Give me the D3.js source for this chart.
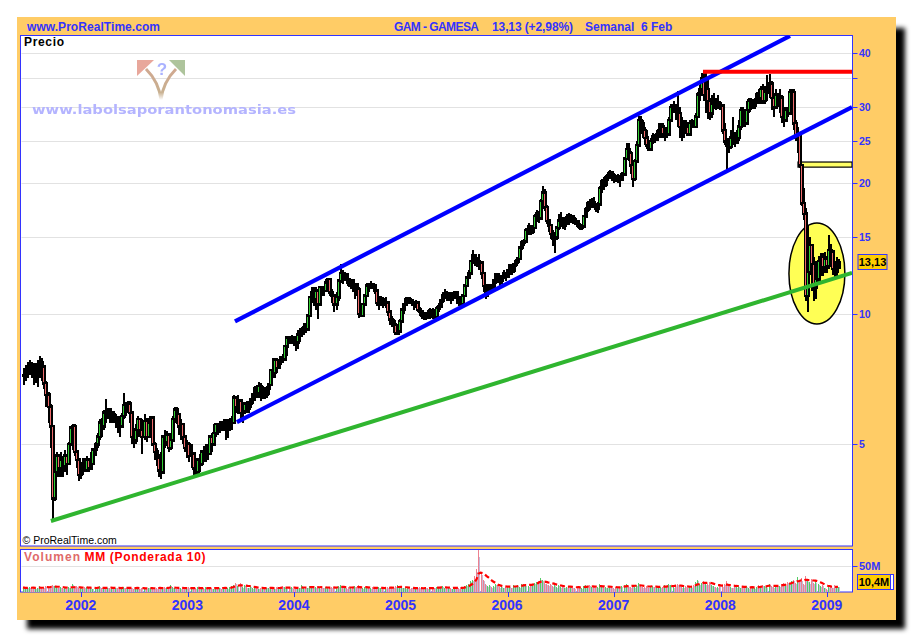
<!DOCTYPE html>
<html><head><meta charset="utf-8">
<script src="https://cdn.jsdelivr.net/npm/d3@7/dist/d3.min.js"></script>
<style>html,body{margin:0;padding:0;background:#fff}svg{display:block}text{font-family:"Liberation Sans",Arial,sans-serif}</style>
</head><body><svg id="c" width="914" height="638"></svg>
<script>
const closes=[7.2,7.3,7.45,7.6,7.5,7.4,7.45,7.6,7.7,7.55,6.9,6.5,6.1,5.5,3.75,4.3,4.7,4.4,4.6,4.45,
4.7,4.5,5.0,5.45,5.5,4.8,4.6,4.25,4.4,4.5,4.35,4.6,4.4,4.5,4.85,5.0,5.2,5.6,5.5,5.9,
5.85,6.0,5.8,5.85,5.7,5.75,5.55,5.5,5.8,6.15,6.0,6.2,5.9,5.2,5.1,5.4,5.7,5.4,5.2,5.65,
5.2,5.6,5.75,5.0,4.8,4.65,4.35,4.3,5.2,5.05,5.25,4.9,5.1,5.7,6.0,5.85,5.5,5.55,5.2,4.9,
5.0,4.7,4.75,4.4,4.3,4.6,4.5,4.8,4.7,4.85,4.75,5.2,5.0,5.3,5.55,5.4,5.5,5.45,5.55,5.4,
5.5,5.6,5.6,6.4,6.1,6.3,5.9,5.95,6.2,6.05,6.2,6.35,6.5,6.7,6.55,6.8,6.6,6.7,6.5,6.7,
6.85,7.4,7.3,7.8,7.5,7.75,7.9,7.85,8.4,8.8,8.75,8.8,8.7,8.6,8.95,9.05,9.1,9.3,9.2,9.9,
10.9,11.2,10.8,11.3,10.5,11.5,11.4,11.3,11.8,12.0,11.2,11.0,10.5,10.9,11.9,12.4,12.1,12.3,12.0,11.7,
11.9,11.6,11.7,11.4,10.0,9.9,10.5,11.0,11.6,11.5,11.7,11.6,11.3,10.6,10.7,10.8,10.5,10.6,10.1,9.7,
9.6,9.4,9.0,9.1,9.6,10.2,10.5,10.8,10.8,10.7,10.6,10.5,10.6,10.2,10.1,9.9,9.8,10.0,9.85,10.15,
9.95,9.8,10.3,10.4,10.7,11.0,11.1,11.0,11.1,10.9,11.0,11.2,10.9,10.7,10.5,11.0,11.6,12.1,12.4,13.2,
13.6,13.3,13.2,13.1,12.4,11.6,11.2,11.3,11.6,11.5,11.9,12.3,12.2,11.9,12.2,12.4,12.2,12.6,12.9,12.6,
13.0,13.2,13.4,14.2,14.6,14.7,15.6,15.9,15.5,15.8,16.8,17.0,16.6,18.2,19.0,17.6,16.4,16.0,15.3,14.9,
15.0,15.8,16.4,16.6,16.0,16.4,16.7,16.5,16.8,16.5,16.3,16.0,15.8,15.9,16.8,17.4,18.0,17.8,18.1,17.8,
17.5,17.9,19.5,20.2,19.9,20.6,20.8,21.2,20.9,20.7,20.4,20.7,20.4,21.0,22.8,24.0,23.5,22.0,20.5,22.5,
24.5,28.0,27.5,26.5,25.5,24.5,24.0,25.0,25.6,25.3,26.0,26.5,27.0,26.0,26.5,26.0,28.0,30.0,30.2,29.5,
29.0,27.0,26.5,27.5,27.0,26.0,27.5,27.6,27.0,28.5,32.0,33.0,35.0,32.0,33.0,31.0,29.0,30.5,31.0,30.0,
30.5,30.2,26.5,25.0,24.5,24.3,25.5,25.2,24.8,25.5,27.0,29.5,28.5,27.5,29.5,31.0,30.0,30.2,31.0,32.0,
31.5,33.0,31.0,32.5,33.0,34.0,31.5,30.0,32.0,31.0,31.5,28.5,28.0,29.5,29.0,32.5,32.5,27.5,25.5,26.0,
22.0,18.0,17.0,11.0,12.5,14.4,13.0,11.5,12.0,13.2,13.5,12.8,13.4,12.9,14.0,13.9,12.7,12.5,12.75,13.13];
const highs=[7.5,7.6,7.75,7.8,7.75,7.7,7.7,7.8,8.0,7.9,7.6,7.0,6.6,6.2,5.3,4.4,4.8,4.75,4.8,4.7,
4.85,4.75,5.05,5.5,5.55,5.55,4.85,4.65,4.5,4.65,4.65,4.7,4.65,4.8,4.9,5.05,5.3,5.7,5.75,6.0,
6.35,6.05,6.05,5.95,5.95,5.85,5.8,5.7,5.9,6.55,6.25,6.3,6.3,5.95,5.4,5.55,5.8,5.75,5.7,5.85,
5.75,5.75,5.8,5.75,5.05,4.9,4.75,4.8,5.25,5.4,5.35,5.3,5.2,5.8,6.1,6.1,5.9,5.7,5.6,5.25,
5.1,5.05,5.0,4.8,4.6,4.65,4.75,4.85,4.95,5.0,5.0,5.25,5.3,5.55,5.6,5.6,5.65,5.65,5.7,5.7,
5.7,5.75,5.8,6.5,6.45,6.5,6.3,6.1,6.25,6.3,6.3,6.4,6.55,6.8,6.85,6.95,6.9,6.8,6.75,6.8,
6.9,7.45,7.9,7.9,7.9,7.8,7.95,8.05,8.45,8.85,8.9,8.95,8.9,8.8,9.15,9.25,9.3,9.5,9.5,10.0,
11.0,11.5,11.5,11.5,11.3,11.6,11.6,11.6,12.0,12.1,12.0,11.4,11.1,11.2,12.0,13.0,12.6,12.5,12.4,12.1,
12.0,11.9,11.8,11.7,11.5,10.6,10.6,11.1,11.8,11.8,11.9,11.8,11.7,11.4,11.0,11.0,10.9,10.9,10.7,10.2,
9.9,9.7,9.5,9.4,9.7,10.3,10.6,10.9,10.9,10.9,10.8,10.7,10.75,10.6,10.35,10.2,10.0,10.1,10.2,10.3,
10.3,10.1,10.4,10.6,10.8,11.2,11.4,11.3,11.2,11.2,11.2,11.3,11.2,11.0,10.9,11.1,11.7,12.2,12.6,13.3,
14.0,13.7,13.5,13.7,13.2,12.5,11.7,11.4,11.7,11.7,12.0,12.4,12.4,12.3,12.3,12.6,12.5,12.7,13.0,13.0,
13.1,13.4,13.5,14.3,14.8,14.9,15.8,16.2,16.0,16.0,17.0,17.4,17.3,18.4,19.7,19.4,17.8,16.5,16.0,15.6,
15.4,15.9,17.0,17.2,16.7,16.6,17.0,17.1,17.0,16.8,16.7,16.5,16.2,16.1,16.9,17.6,18.2,18.4,18.5,18.6,
18.0,18.1,19.7,20.5,20.7,20.9,21.2,21.5,21.4,21.1,20.9,21.0,20.8,21.2,23.0,24.8,24.8,23.8,22.3,22.8,
25.0,28.6,28.6,28.0,27.0,26.5,25.0,25.5,26.2,26.0,26.5,27.5,27.5,27.5,27.0,27.0,28.5,30.5,31.0,30.5,
32.6,30.0,28.5,28.0,28.0,27.5,28.0,28.2,28.0,29.0,32.5,33.8,36.0,36.5,36.0,35.0,31.5,32.0,32.3,31.5,
32.0,31.0,30.5,27.5,25.5,25.5,26.5,28.4,26.3,26.5,28.0,30.0,30.0,29.0,31.0,31.5,31.5,31.0,31.5,32.5,
33.0,33.5,34.0,33.5,35.5,35.8,34.5,32.0,33.0,32.0,33.0,32.0,30.0,30.0,30.0,33.0,33.0,33.0,28.0,27.0,
26.0,21.8,19.5,17.5,16.0,15.0,14.5,13.5,13.2,13.6,13.8,13.8,13.9,13.6,15.2,14.5,14.0,13.2,13.5,13.4];
const lows=[6.85,7.0,7.1,7.2,7.1,6.85,6.9,6.76,7.1,7.0,6.7,6.1,5.6,4.9,3.33,3.7,4.2,4.2,4.2,4.2,
4.3,4.25,4.5,5.0,4.85,4.7,4.4,4.1,4.15,4.25,4.3,4.3,4.3,4.35,4.5,4.7,4.9,5.1,5.2,5.4,
5.6,5.7,5.6,5.6,5.6,5.45,5.3,5.2,5.45,5.7,5.8,5.9,5.6,5.0,4.9,5.0,5.2,5.2,4.75,5.1,
5.05,5.2,5.3,4.95,4.6,4.45,4.2,4.15,4.3,4.9,4.95,4.8,4.85,5.05,5.6,5.55,5.25,5.1,5.0,4.8,
4.65,4.55,4.4,4.2,4.2,4.25,4.3,4.45,4.55,4.55,4.6,4.75,4.8,4.95,5.2,5.25,5.3,5.35,5.35,5.1,
5.15,5.35,5.4,5.55,5.9,5.85,5.7,5.6,5.85,5.9,5.9,6.05,6.2,6.3,6.4,6.4,6.3,6.35,6.35,6.4,
6.5,6.8,7.1,7.1,7.3,7.45,7.6,7.7,7.9,8.0,8.5,8.5,8.4,8.2,8.3,8.6,8.85,8.95,9.0,9.2,
9.8,10.6,10.4,10.2,9.7,10.4,11.0,11.0,11.2,11.2,11.0,10.6,10.1,10.2,10.7,11.8,11.7,11.9,11.7,11.5,
11.4,11.2,10.8,11.0,9.75,9.8,9.8,10.4,10.9,11.2,11.4,11.4,11.1,10.4,10.2,10.4,10.3,10.3,9.9,9.4,
9.3,9.0,8.95,8.95,9.05,9.5,10.0,10.4,10.5,10.5,10.4,10.2,10.3,10.1,9.9,9.7,9.65,9.65,9.7,9.7,
9.7,9.55,9.7,10.1,10.3,10.6,10.8,10.7,10.7,10.5,10.7,10.8,10.5,10.4,10.4,10.5,10.9,11.5,12.0,12.3,
13.0,12.9,12.8,12.6,12.0,11.2,10.8,10.9,11.1,11.2,11.4,11.7,11.8,11.6,11.7,12.0,11.9,12.1,12.3,12.3,
12.4,12.8,13.0,13.3,14.0,14.3,14.6,15.2,15.2,15.3,15.7,16.3,16.2,16.5,18.0,17.3,16.1,15.4,14.9,14.3,
13.8,14.8,15.6,15.9,15.7,15.6,16.0,16.0,16.2,16.1,16.0,15.8,15.6,15.6,15.8,16.7,17.2,17.4,17.5,17.5,
17.2,17.1,17.7,19.0,19.3,19.6,20.2,20.5,20.3,20.0,20.1,20.0,19.6,20.2,20.8,22.6,22.5,21.0,19.6,20.3,
22.3,24.3,26.0,25.5,24.5,24.0,23.7,23.8,24.6,24.8,25.0,25.5,25.5,25.5,25.0,25.4,26.0,27.8,29.0,28.0,
27.0,25.5,25.0,25.5,26.0,25.8,26.0,27.0,26.8,26.8,28.3,31.0,32.0,31.0,29.0,28.1,28.0,28.3,30.0,29.5,
29.7,29.5,26.0,24.5,21.5,23.5,24.0,24.5,24.2,24.8,25.0,26.5,27.0,27.0,27.5,29.0,29.5,29.7,29.7,30.5,
30.5,30.5,30.5,30.5,31.0,31.5,29.5,28.5,30.0,30.0,29.0,27.5,27.0,28.0,28.5,28.8,29.5,26.5,25.0,23.5,
21.7,17.7,16.5,10.7,10.1,12.3,11.3,10.7,10.8,11.8,12.2,12.2,12.4,12.4,12.7,12.8,12.3,12.1,12.1,12.7];
const volumes=[9,7,8,10,7,9,6,8,11,7,9,12,10,8,14,12,9,8,10,7,
8,6,9,7,15,9,11,7,8,6,9,10,7,8,6,9,7,11,8,6,
9,8,7,10,6,8,7,9,6,10,8,7,9,8,6,7,9,6,8,7,
6,8,7,9,6,7,10,8,6,9,7,8,13,9,7,6,8,7,9,6,
7,9,6,8,7,10,8,6,7,9,6,8,7,6,9,7,8,6,10,8,
7,9,11,14,17,12,18,10,13,9,8,11,7,9,8,6,7,9,6,8,
7,10,8,6,9,7,8,11,9,7,8,10,6,9,7,8,13,7,9,8,
12,10,8,9,11,7,10,8,9,7,8,10,9,7,11,14,10,8,7,9,
7,8,11,9,13,8,7,9,10,8,7,9,6,8,10,7,8,6,9,8,
10,8,11,13,9,10,8,7,9,6,8,7,6,8,9,7,6,8,7,9,
7,8,10,9,8,11,7,9,8,7,6,10,8,7,9,8,11,13,16,22,
24,30,45,80,38,24,16,12,14,10,12,15,13,9,11,8,10,9,12,8,
14,11,13,10,15,16,14,12,16,13,18,20,22,27,24,17,15,13,16,12,
14,10,13,9,11,8,10,9,12,8,7,9,10,7,11,13,10,14,9,11,
8,10,15,12,9,10,8,11,9,7,10,8,9,11,13,15,12,10,14,10,
13,17,12,10,9,11,8,10,12,9,11,8,10,9,13,11,15,13,10,12,
16,12,10,9,11,8,10,9,14,20,24,16,18,22,15,16,19,13,12,10,
9,13,11,16,21,13,10,8,11,9,12,8,10,9,11,7,8,10,7,9,
13,11,14,12,10,16,12,9,11,13,12,15,17,14,20,17,21,24,18,28,
22,26,16,30,22,19,25,18,21,16,12,14,8,5,9,11,8,13,10,10.4];
const lastBarYear=2009.1;
const yearTicks=[2002,2003,2004,2005,2006,2007,2008,2009];
const priceTicks=[5,10,15,20,25,30,35,40];
const priceLabels=[5,10,15,20,25,30,40];
const channelUpper=[[2003.442,9.6],[2008.65,43.8]];
const channelLower=[[2003.46,5.62],[2009.232,30.0]];
const supportLine=[[2001.715,3.32],[2009.232,12.42]];
const resistance=[[2007.834,36.2],[2009.232,36.2]];
const gapZone={x0:2008.725,x1:2009.232,top:22.4,bottom:21.8};
const circled={x0:2008.64,x1:2009.165,top:16.2,bottom:9.47};

const blue="#3333ff",orange="#ffcc66";
const svg=d3.select("#c");
const x=d3.scaleLinear().domain([2002,2009]).range([81.3,827.3]);
const y=d3.scaleLog().domain([5,40]).range([444,53]);
const v=d3.scaleLinear().domain([0,50]).range([592,566]);
const P={l:20.5,r:852.5,t:35.5,b:546,vt:549.5,vb:592};
const defs=svg.append("defs");
defs.append("filter").attr("id","sh").attr("x","-5%").attr("y","-5%").attr("width","110%").attr("height","110%")
 .append("feGaussianBlur").attr("stdDeviation",2.6);
defs.append("filter").attr("id","soft").append("feGaussianBlur").attr("stdDeviation",0.45);
defs.append("clipPath").attr("id","cp").append("rect").attr("x",P.l).attr("y",P.t).attr("width",P.r-P.l).attr("height",P.b-P.t);
defs.append("clipPath").attr("id","cv").append("rect").attr("x",P.l).attr("y",P.vt).attr("width",P.r-P.l).attr("height",P.vb-P.vt);
const vg=defs.append("linearGradient").attr("id","vgrad").attr("x1",0).attr("x2",0).attr("y1",0).attr("y2",1);
vg.append("stop").attr("offset","0").attr("stop-color","#d0a890");
vg.append("stop").attr("offset","0.75").attr("stop-color","#c8b090");
vg.append("stop").attr("offset","1").attr("stop-color","#fff");

svg.append("rect").attr("x",27).attr("y",28).attr("width",878).attr("height",601).attr("fill","#000").attr("filter","url(#sh)");
svg.append("rect").attr("x",17).attr("y",17).attr("width",879).attr("height",603).attr("fill",orange);
svg.append("rect").attr("x",P.l).attr("y",P.t).attr("width",P.r-P.l).attr("height",P.b-P.t).attr("fill","#fff").attr("stroke",blue);
svg.append("rect").attr("x",P.l).attr("y",P.vt).attr("width",P.r-P.l).attr("height",P.vb-P.vt).attr("fill","#fff").attr("stroke",blue);

// header
const hdr=svg.append("g").attr("font-weight","bold").attr("font-size",12).attr("fill",blue);
hdr.append("text").attr("x",27).attr("y",31).attr("textLength",133).attr("lengthAdjust","spacing").text("www.ProRealTime.com");
hdr.append("text").attr("x",394).attr("y",31).attr("textLength",85).attr("lengthAdjust","spacing").text("GAM - GAMESA");
hdr.append("text").attr("x",492).attr("y",31).attr("textLength",81).attr("lengthAdjust","spacing").text("13,13 (+2,98%)");
hdr.append("text").attr("x",585).attr("y",31).style("white-space","pre").text("Semanal  6 Feb");

// gridlines
const plot=svg.append("g");
plot.selectAll("line.g").data(priceTicks).join("line").attr("x1",P.l+1).attr("x2",P.r-1)
 .attr("y1",d=>Math.round(y(d))+.5).attr("y2",d=>Math.round(y(d))+.5).attr("stroke","#e2e2e2");
svg.append("line").attr("x1",P.l+1).attr("x2",P.r-1).attr("y1",Math.round(v(50))+.5).attr("y2",Math.round(v(50))+.5).attr("stroke","#e2e2e2");

// watermark
const wm=svg.append("g").attr("filter","url(#soft)");
wm.append("path").attr("d","M137 60H154L137 76Z").attr("fill","#e8a79b");
wm.append("path").attr("d","M185 60H169L185 76Z").attr("fill","#aec49c");
wm.append("path").attr("d","M146 69Q159 82 161 100Q163 82 176 69").attr("fill","none").attr("stroke","url(#vgrad)").attr("stroke-width",3);
wm.append("text").attr("x",162).attr("y",75).attr("text-anchor","middle").attr("font-size",17).attr("font-weight","bold").attr("fill","#aab2ff").text("?");
wm.append("text").attr("x",32).attr("y",114).attr("font-size",13).attr("font-weight","bold").attr("fill","#b4b4ff").style("font-family","'DejaVu Sans'")
 .attr("textLength",264).attr("lengthAdjust","spacingAndGlyphs").text("www.labolsaporantonomasia.es");

svg.append("text").attr("x",24).attr("y",46).attr("font-size",12).attr("font-weight","bold").attr("fill","#000").attr("textLength",40).attr("lengthAdjust","spacing").text("Precio");
svg.append("text").attr("x",22.5).attr("y",544).attr("font-size",10.5).attr("fill","#000").text("© ProRealTime.com");

// bars
const n=closes.length;
const rows=closes.map((c,i)=>({yr:lastBarYear-(n-1-i)*7/365.25,c,o:i?closes[i-1]:c,h:highs[i],l:lows[i],vol:volumes[i]}));
const main=svg.append("g").attr("clip-path","url(#cp)");
main.append("ellipse").attr("cx",(x(circled.x0)+x(circled.x1))/2).attr("cy",(y(circled.top)+y(circled.bottom))/2)
 .attr("rx",(x(circled.x1)-x(circled.x0))/2).attr("ry",(y(circled.bottom)-y(circled.top))/2)
 .attr("fill","#ffff55").attr("stroke","#000").attr("stroke-width",1.5);
main.append("rect").attr("x",x(gapZone.x0)).attr("width",x(gapZone.x1)-x(gapZone.x0)).attr("y",y(gapZone.top)).attr("height",y(gapZone.bottom)-y(gapZone.top))
 .attr("fill","#ffff66").attr("stroke","#000").attr("stroke-width",1.2);
const bx=d=>Math.round(x(d.yr));
const bars=main.append("g").attr("shape-rendering","crispEdges");
bars.selectAll("rect.w").data(rows).join("rect").attr("x",d=>bx(d)).attr("width",2)
 .attr("y",d=>y(d.h)).attr("height",d=>y(d.l)-y(d.h)).attr("fill","#000");
bars.selectAll("rect.b").data(rows).join("rect").attr("x",d=>bx(d)-1).attr("width",4)
 .attr("y",d=>Math.min(y(d.o),y(d.c))-1.5).attr("height",d=>Math.abs(y(d.o)-y(d.c))+3).attr("fill","#000");
bars.selectAll("rect.f").data(rows.filter(d=>Math.abs(y(d.o)-y(d.c))>=7)).join("rect").attr("x",d=>bx(d)).attr("width",1)
 .attr("y",d=>Math.min(y(d.o),y(d.c))+1).attr("height",d=>Math.abs(y(d.o)-y(d.c))-2).attr("fill",d=>d.c>=d.o?"#33cc33":"#ee6a6a");

// drawn lines
const ln=d3.line().x(d=>x(d[0])).y(d=>y(d[1]));
const over=svg.append("g").attr("clip-path","url(#cp)").attr("fill","none");
over.append("path").attr("d",ln(supportLine)).attr("stroke","#2fb52f").attr("stroke-width",4);
over.append("path").attr("d",ln(channelUpper)).attr("stroke","#0000ff").attr("stroke-width",4.2);
over.append("path").attr("d",ln(channelLower)).attr("stroke","#0000ff").attr("stroke-width",4.2);
over.append("path").attr("d",ln(resistance)).attr("stroke","#ff0000").attr("stroke-width",4);

// right axis
svg.selectAll("line.yt").data(priceTicks).join("line").attr("x1",P.r).attr("x2",P.r+5)
 .attr("y1",d=>Math.round(y(d))+.5).attr("y2",d=>Math.round(y(d))+.5).attr("stroke",blue);
svg.selectAll("text.yl").data(priceLabels).join("text").attr("x",859).attr("y",d=>y(d)+4)
 .attr("font-size",10.5).attr("font-weight","bold").attr("fill",blue).text(d=>d);
svg.append("rect").attr("x",858).attr("y",254.5).attr("width",29).attr("height",15).attr("fill","#ffcc00").attr("stroke",blue);
svg.append("text").attr("x",872.5).attr("y",266).attr("text-anchor","middle").attr("font-size",11).attr("font-weight","bold").text("13,13");

// volume
const vp=svg.append("g").attr("clip-path","url(#cv)");
const vb=vp.append("g").attr("shape-rendering","crispEdges");
vb.selectAll("rect.s").data(rows).join("rect").attr("x",d=>bx(d)+1).attr("width",1).attr("y",d=>v(d.vol*.85)).attr("height",d=>v(0)-v(d.vol*.85)).attr("fill","#c4bcd8");
vb.selectAll("rect.m").data(rows).join("rect").attr("x",bx).attr("width",1).attr("y",d=>v(d.vol)).attr("height",d=>v(0)-v(d.vol))
 .attr("fill",d=>d.c>=d.o?"#55cc66":"#ee8090");
const wma=rows.map((d,i)=>{let s=0,w=0;for(let k=0;k<10&&i-k>=0;k++){s+=volumes[i-k]*(10-k);w+=10-k;}return {yr:d.yr,m:s/w};});
vp.append("path").attr("d",d3.line().x(d=>x(d.yr)).y(d=>v(d.m))(wma)).attr("fill","none").attr("stroke","#ff0000").attr("stroke-width",2.2).attr("stroke-dasharray","5 3");
svg.append("line").attr("x1",P.r).attr("x2",P.r+5).attr("y1",Math.round(v(50))+.5).attr("y2",Math.round(v(50))+.5).attr("stroke",blue);
svg.append("text").attr("x",859).attr("y",v(50)+4).attr("font-size",11).attr("font-weight","bold").attr("fill",blue).text("50M");
svg.append("rect").attr("x",857.5).attr("y",574.5).attr("width",33).attr("height",15).attr("fill","#ffcc00").attr("stroke",blue);
svg.append("rect").attr("x",890.5).attr("y",574.5).attr("width",3).attr("height",15).attr("fill","#fff").attr("stroke",blue);
svg.append("text").attr("x",874).attr("y",586).attr("text-anchor","middle").attr("font-size",11).attr("font-weight","bold").text("10,4M");
svg.append("text").attr("x",24).attr("y",561).attr("font-size",12).attr("font-weight","bold").attr("fill","#e06a6a").attr("textLength",56).attr("lengthAdjust","spacing").text("Volumen");
svg.append("text").attr("x",84.5).attr("y",561).attr("font-size",12).attr("font-weight","bold").attr("fill","#ff0000").attr("textLength",121).attr("lengthAdjust","spacing").text("MM (Ponderada 10)");

// x axis
svg.selectAll("line.xt").data(yearTicks).join("line").attr("x1",d=>Math.round(x(d))+.5).attr("x2",d=>Math.round(x(d))+.5)
 .attr("y1",P.vb).attr("y2",P.vb+5).attr("stroke",blue);
svg.selectAll("text.xl").data(yearTicks).join("text").attr("x",d=>x(d)-0.5).attr("y",610).attr("text-anchor","middle")
 .attr("font-size",14).attr("font-weight","bold").attr("fill",blue).text(d=>d);
</script></body></html>
